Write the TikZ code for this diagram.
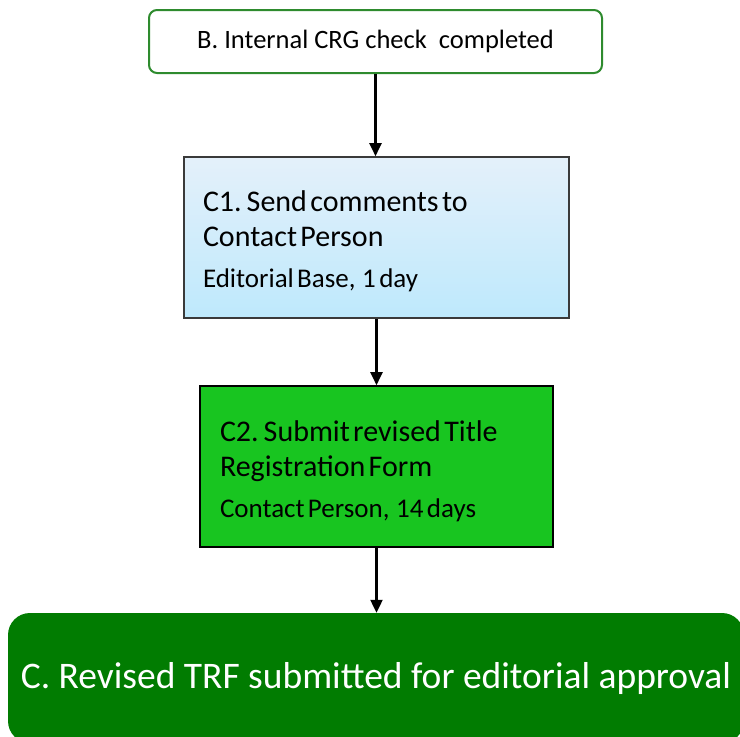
\documentclass[tikz,border=0pt]{standalone}
\usepackage{fontspec}
\setmainfont{Carlito}
\usetikzlibrary{arrows.meta}
\definecolor{startgreen}{HTML}{2E8B2E}
\definecolor{blueTop}{HTML}{E4F0FA}
\definecolor{blueBottom}{HTML}{BEE9FC}
\definecolor{stepgreen}{HTML}{18C520}
\definecolor{endgreen}{HTML}{017C01}
\definecolor{boxline}{HTML}{3A3A3A}
\newcommand{\titlesize}{\fontsize{30}{35}\selectfont}
\newcommand{\detailsize}{\fontsize{27}{41}\selectfont}
\tikzset{
  startbox/.style={draw=startgreen, line width=2pt, rounded corners=8pt, fill=white,
    font=\fontsize{26.5}{30}\selectfont, inner sep=0pt},
  taskbox/.style={line width=1.6pt, align=left, inner ysep=0pt, text height=22pt},
  endbox/.style={fill=endgreen, rounded corners=22pt, text=white, inner sep=0pt,
    font=\fontsize{37.5}{42}\selectfont},
  flow/.style={line width=2.2pt, -{Triangle[width=12pt,length=13pt]}}
}
\begin{document}
\begin{tikzpicture}[x=1pt,y=-1pt]
\useasboundingbox (0,0) rectangle (740,737);
\clip (0,0) rectangle (740,737);

% start event
\node[startbox, minimum width=453pt, minimum height=63pt] (B) at (375.5,41.5)
  {B. Internal CRG check\ \ completed};

% step C1
\node[taskbox, draw=boxline, top color=blueTop, bottom color=blueBottom,
      minimum width=385pt, minimum height=161pt, inner xsep=19pt, text width=347pt,
      text depth=74pt]
  (C1) at (376.5,237.5)
  {\titlesize C1. Send comments to\par
   Contact Person\par
   \detailsize Editorial Base,\ \ 1 day\par};

% step C2
\node[taskbox, draw=black, fill=stepgreen,
      minimum width=353pt, minimum height=161pt, inner xsep=20pt, text width=313pt,
      text depth=72pt]
  (C2) at (376.5,466.5)
  {\titlesize C2. Submit revised Title\par
   Registration Form\par
   \detailsize Contact Person,\ \ 14 days\par};

% end event
\node[endbox, minimum width=736pt, minimum height=130pt] (C) at (376,678)
  {C. Revised TRF submitted for editorial approval};

% connectors
\draw[flow] (B.south) -- (B.south |- C1.north);
\draw[flow] (C1.south) -- (C1.south |- C2.north);
\draw[flow] (C2.south) -- (C2.south |- C.north);
\end{tikzpicture}
\end{document}
